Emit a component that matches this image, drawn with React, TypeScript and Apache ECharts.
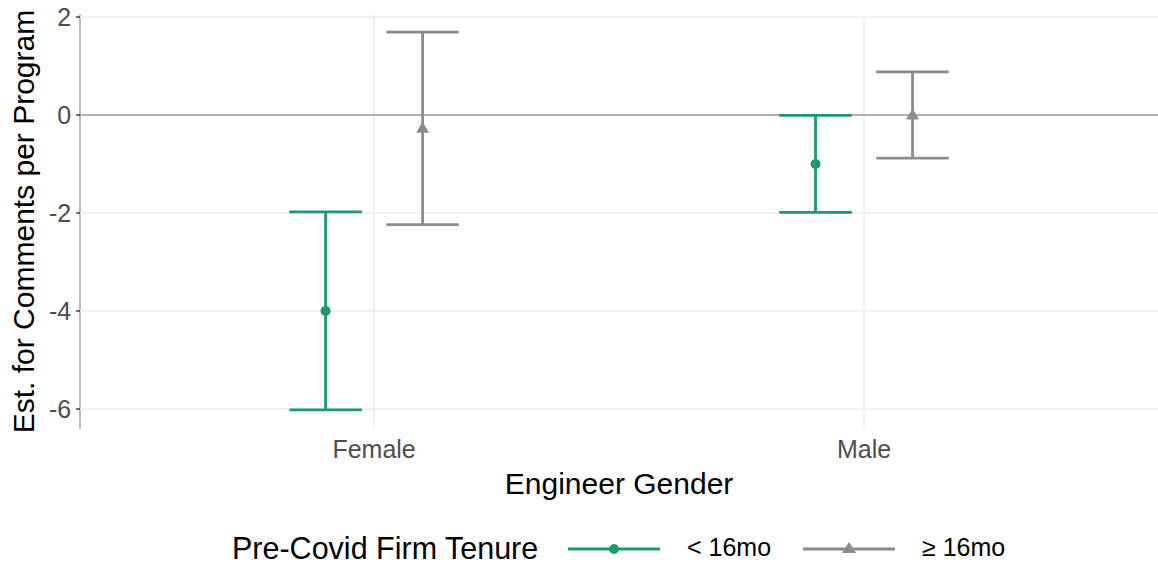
import React, { useEffect, useRef } from "react";
import * as echarts from "echarts";

const categories = ["Female", "Male"];
const groups = ["< 16mo", "≥ 16mo"];
const groupColors = ["#1b9a6f", "#8c8c8c"];
const groupSymbols = ["circle", "triangle"];
// estimates and confidence limits, by category (Female, Male)
const estShort = [-4.0, -1.0];
const lowShort = [-6.02, -1.99];
const highShort = [-1.98, -0.01];
const estLong = [-0.25, 0.02];
const lowLong = [-2.24, -0.88];
const highLong = [1.69, 0.88];
const yTicks = [-6, -4, -2, 0, 2];

const FONT = "'Liberation Sans', Arial, Helvetica, sans-serif";
const DODGE = 0.099;
const CAP = 0.074;

export default function App() {
  const ref = useRef<HTMLDivElement>(null);
  useEffect(() => {
    if (!ref.current) return;
    const chart = echarts.init(ref.current, null, { renderer: "svg" });
    const est = [estShort, estLong];
    const lo = [lowShort, lowLong];
    const hi = [highShort, highLong];
    const catPos = categories.map((_, i) => i + 1);

    const series: any[] = [
      {
        type: "line",
        data: [],
        z: 1,
        silent: true,
        markLine: {
          silent: true,
          z: 1,
          symbol: "none",
          label: { show: false },
          animation: false,
          data: [
            ...catPos.map((v) => ({ xAxis: v, lineStyle: { color: "#f0f0f0", width: 2, type: "solid" } })),
            ...yTicks
              .filter((v) => v !== 0)
              .map((v) => ({ yAxis: v, lineStyle: { color: "#f0f0f0", width: 2, type: "solid" } })),
            { yAxis: 0, lineStyle: { color: "#b0b0b0", width: 2, type: "solid" } },
          ],
        },
      },
    ];

    groups.forEach((g, gi) => {
      const off = gi === 0 ? -DODGE : DODGE;
      const color = groupColors[gi];
      series.push({
        type: "custom",
        name: g,
        z: 6,
        data: catPos.map((p, ci) => [p + off, lo[gi][ci], hi[gi][ci]]),
        renderItem: (params: any, api: any) => {
          const x = api.value(0);
          const l = api.value(1);
          const h = api.value(2);
          const top = api.coord([x, h]);
          const bot = api.coord([x, l]);
          const xl = api.coord([x - CAP, h])[0];
          const xr = api.coord([x + CAP, h])[0];
          const st = { stroke: color, lineWidth: 2.8 };
          return {
            type: "group",
            children: [
              { type: "line", shape: { x1: top[0], y1: top[1], x2: bot[0], y2: bot[1] }, style: st },
              { type: "line", shape: { x1: xl, y1: top[1], x2: xr, y2: top[1] }, style: st },
              { type: "line", shape: { x1: xl, y1: bot[1], x2: xr, y2: bot[1] }, style: st },
            ],
          };
        },
      });
      series.push({
        type: "scatter",
        name: g,
        z: 7,
        symbol: groupSymbols[gi],
        symbolSize: gi === 0 ? 10 : [13, 11],
        itemStyle: { color, opacity: 1 },
        data: catPos.map((p, ci) => [p + off, est[gi][ci]]),
      });
    });

    const legendY = 549;
    chart.setOption({
      animation: false,
      grid: { left: 80, right: 0, top: 15, bottom: 137 },
      xAxis: {
        type: "value",
        min: 0.4,
        max: 2.6,
        name: "Engineer Gender",
        nameLocation: "middle",
        nameGap: 40,
        nameTextStyle: { fontFamily: FONT, fontSize: 30, color: "#000" },
        axisLine: { show: true, lineStyle: { color: "#b8b8b8", width: 2 } },
        axisTick: { show: true, customValues: catPos, length: 4, lineStyle: { color: "#333", width: 1.5 } },
        axisLabel: {
          customValues: catPos,
          formatter: (v: number) => categories[Math.round(v) - 1] ?? "",
          fontFamily: FONT,
          fontSize: 25,
          color: "#4d4d4d",
          margin: 8,
        },
        splitLine: { show: false },
      },
      yAxis: {
        type: "value",
        min: -6.39,
        max: 2.04,
        name: "Est. for Comments per Program",
        nameLocation: "middle",
        nameGap: 42,
        nameTextStyle: { fontFamily: FONT, fontSize: 30, color: "#000" },
        axisLine: { show: true, lineStyle: { color: "#b8b8b8", width: 2 } },
        axisTick: { show: true, customValues: yTicks, length: 4, lineStyle: { color: "#333", width: 1.5 } },
        axisLabel: {
          customValues: yTicks,
          fontFamily: FONT,
          fontSize: 25,
          color: "#4d4d4d",
          margin: 9,
        },
        splitLine: { show: false },
      },
      graphic: [
        {
          type: "text",
          left: 232,
          top: legendY - 17,
          style: { text: "Pre-Covid Firm Tenure", font: `30.5px ${FONT}`, fill: "#000" },
        },
        {
          type: "line",
          shape: { x1: 568, y1: legendY, x2: 660, y2: legendY },
          style: { stroke: groupColors[0], lineWidth: 2.8 },
        },
        { type: "circle", shape: { cx: 614, cy: legendY, r: 5 }, style: { fill: groupColors[0] } },
        {
          type: "text",
          left: 687,
          top: legendY - 15,
          style: { text: groups[0], font: `25px ${FONT}`, fill: "#000" },
        },
        {
          type: "line",
          shape: { x1: 803, y1: legendY, x2: 895, y2: legendY },
          style: { stroke: groupColors[1], lineWidth: 2.8 },
        },
        {
          type: "polygon",
          shape: { points: [[849, legendY - 7], [856, legendY + 4], [842, legendY + 4]] },
          style: { fill: groupColors[1] },
        },
        {
          type: "text",
          left: 922,
          top: legendY - 15,
          style: { text: groups[1], font: `25px ${FONT}`, fill: "#000" },
        },
      ],
      series,
    });
    return () => chart.dispose();
  }, []);
  return (
    <div
      ref={ref}
      style={{ position: "fixed", left: 0, top: 0, width: 1158, height: 565, background: "#fff" }}
    />
  );
}
